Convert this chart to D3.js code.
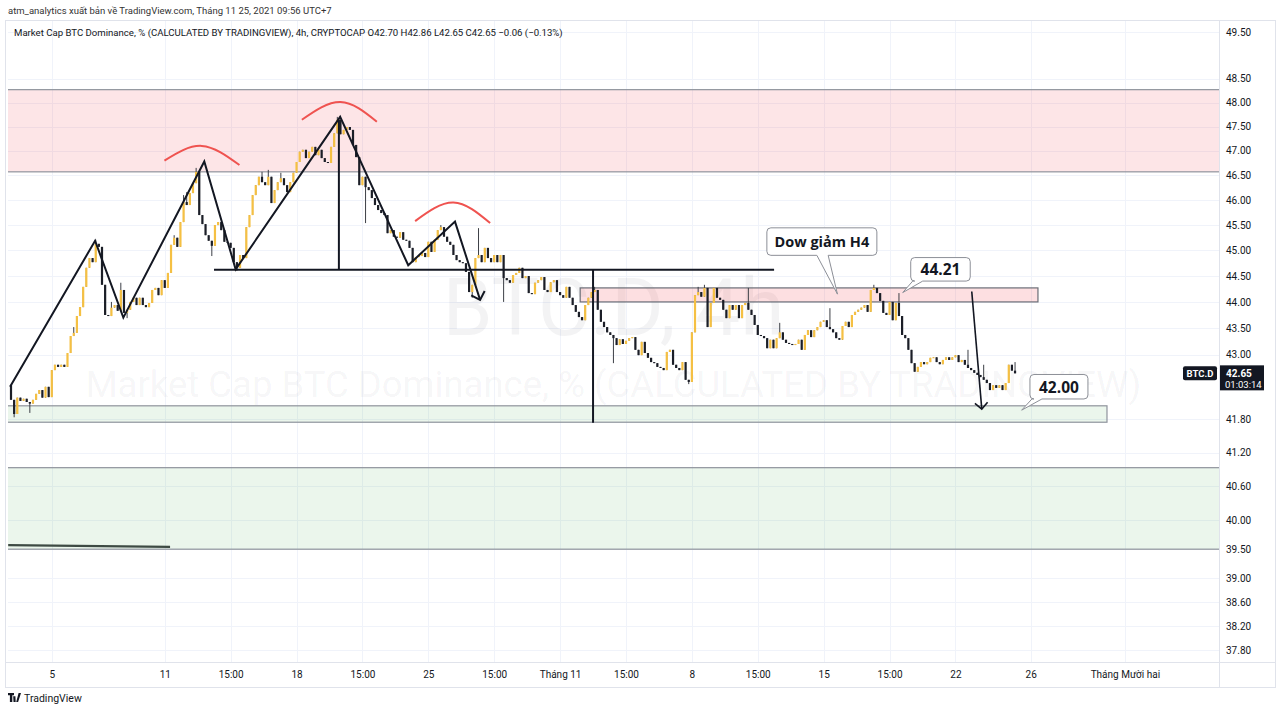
<!DOCTYPE html>
<html><head><meta charset="utf-8">
<script src="https://cdn.jsdelivr.net/npm/d3@7"></script>
<style>
html,body{margin:0;padding:0;background:#fff;}
svg{display:block;font-family:Roboto,"Noto Sans",sans-serif;}
</style></head><body>
<svg id="chart" width="1280" height="713"></svg>
<script>
// ---------------- DATA ----------------
const headerText = "atm_analytics xuất bản về TradingView.com, Tháng 11 25, 2021 09:56 UTC+7";
const legendText = "Market Cap BTC Dominance, % (CALCULATED BY TRADINGVIEW), 4h, CRYPTOCAP  O42.70  H42.86  L42.65  C42.65  −0.06 (−0.13%)";
const watermark1 = "BTC.D, 4h";
const watermark2 = "Market Cap BTC Dominance, % (CALCULATED BY TRADINGVIEW)";

const firstBarTime = "2021-10-02 23:00";   // 4h bars, UTC+7 clock
const barHours = 4;
const viewRange = ["2021-10-02 19:10", "2021-12-06 03:00"];
const priceDomain = [37.8, 49.5];

const firstOpen = 42.43;
const closes = [
 42.16,41.90,42.20,42.14,42.18,42.12,42.09,42.16,42.27,42.34,
 42.20,42.40,42.21,42.71,42.81,42.77,42.81,42.77,43.03,43.35,
 43.41,43.73,43.90,44.29,44.66,44.85,44.77,45.13,45.07,44.33,
 43.75,43.73,43.89,43.94,43.83,44.23,43.79,43.85,44.00,44.08,
 43.94,44.08,43.94,43.90,43.98,44.23,44.27,44.13,44.42,44.27,
 44.56,45.11,45.25,45.07,45.56,45.96,45.90,46.14,46.34,46.57,
 45.70,45.52,45.30,45.19,45.09,45.50,45.56,45.40,45.17,45.15,
 45.05,44.77,44.66,44.91,44.85,45.46,45.70,46.10,46.30,46.47,
 46.36,46.30,46.47,45.94,46.20,46.36,46.44,46.30,46.16,46.36,
 46.55,46.77,46.98,47.02,46.85,46.98,47.08,46.91,47.02,46.85,
 46.77,46.75,47.08,47.36,47.64,47.34,47.43,47.49,47.43,47.12,
 46.87,46.30,46.47,46.26,46.20,46.04,45.90,45.80,45.74,45.70,
 45.34,45.40,45.27,45.25,45.36,45.21,45.19,45.05,44.77,44.87,
 44.89,44.95,44.87,45.17,44.97,45.21,45.40,45.46,45.27,45.17,
 45.11,44.91,44.81,44.77,44.75,44.58,44.19,44.33,44.85,44.91,
 44.77,45.05,44.85,44.77,44.91,44.77,44.91,44.46,44.42,44.37,
 44.52,44.56,44.66,44.46,44.50,44.17,44.15,44.37,44.42,44.48,
 44.23,44.19,44.38,44.42,44.19,44.13,44.08,44.29,44.08,43.94,
 43.81,43.71,43.65,43.94,44.08,44.19,44.23,43.85,43.62,43.52,
 43.42,43.37,43.31,43.18,43.29,43.20,43.26,43.31,43.33,43.09,
 42.99,43.24,43.03,42.94,42.86,42.84,42.77,42.75,42.71,43.05,
 43.09,42.81,42.75,42.71,42.86,42.53,42.49,43.42,44.13,44.19,
 44.10,44.27,43.52,43.98,44.27,44.08,44.04,43.85,43.69,43.94,
 43.85,43.94,43.69,43.94,43.98,43.85,43.75,43.56,43.37,43.35,
 43.31,43.12,43.28,43.12,43.31,43.42,43.28,43.22,43.20,43.18,
 43.20,43.28,43.09,43.37,43.46,43.33,43.46,43.52,43.62,43.65,
 43.52,43.48,43.42,43.31,43.28,43.54,43.62,43.52,43.75,43.81,
 43.85,43.89,43.94,43.81,44.23,44.27,44.17,44.02,43.79,43.75,
 44.00,43.65,43.98,43.73,43.37,43.31,43.09,42.84,42.68,42.77,
 42.86,42.82,42.86,42.94,42.95,42.86,42.82,42.90,42.95,42.90,
 42.95,42.99,42.86,42.90,42.81,42.75,42.71,42.66,42.62,42.58,
 42.53,42.47,42.34,42.43,42.38,42.43,42.34,42.47,42.81,42.70,42.65
];
// visible wicks [barIndex, price]
const wickHighs = [[20,43.52],[27,45.21],[32,44.00],[35,44.37],[52,45.30],[55,46.10],[56,46.16],[59,46.65],
 [80,46.57],[82,46.61],[86,46.55],[104,47.70],[137,45.50],[149,45.44],[157,44.91],[186,44.29],[219,44.29],
 [221,44.33],[235,44.27],[245,43.60],[261,43.88],[275,44.33],[283,44.17],[305,43.09],[310,42.81],[320,42.86]];
const wickLows = [[1,41.84],[6,41.92],[37,43.69],[64,44.89],[72,44.60],[113,45.54],[147,44.08],[157,44.00],
 [192,42.84],[216,42.45]];

const priceTicks = [49.5,48.5,48,47.5,47,46.5,46,45.5,45,44.5,44,43.5,43,41.8,41.2,40.6,40,39.5,39,38.6,38.2,37.8];
const timeTicks = ["2021-10-05 03:00","2021-10-11 03:00","2021-10-14 15:00","2021-10-18 03:00","2021-10-21 15:00",
 "2021-10-25 03:00","2021-10-28 15:00","2021-11-01 03:00","2021-11-04 15:00","2021-11-08 03:00","2021-11-11 15:00",
 "2021-11-15 03:00","2021-11-18 15:00","2021-11-22 03:00","2021-11-26 03:00","2021-12-01 03:00"];
const timeLabels = ["5","11","15:00","18","15:00","25","15:00","Tháng 11","15:00","8","15:00","15","15:00","22","26","Tháng Mười hai"];

// zones (prices, bar indices; null = extends to pane edge)
const zoneTop      = [48.27, 40.93, 42.05, 44.27];
const zoneBottom   = [46.57, 39.50, 41.75, 44.00];
const zoneStartBar = [null,  null,  null,  181.4];
const zoneEndBar   = [null,  null,  349.3, 327.3];

// drawings in [barIndex, price]
const zigzag = [[-0.3,42.40],[26.8,45.19],[35.8,43.70],[61.6,46.78],[71.6,44.63],[104.9,47.70],[126.6,44.71],[141.5,45.57],[149.5,44.04]];
const necklineBars = [64.7, 243.2];
const necklinePrice = 44.62;
const verticalBars = [104.5, 185.5];
const verticalTop = [47.64, 44.62];
const verticalBottom = [44.62, 41.74];
const arcs = [
 [[48.9,46.80],[60.8,47.10],[72.8,46.71]],
 [[92.7,47.64],[105.0,48.01],[116.6,47.60]],
 [[128.8,45.58],[141.0,45.95],[152.7,45.54]]
];
const dropArrow = [[306.2,44.20],[309.4,41.99]];
const baseLine = [[-0.9,39.57],[50.7,39.54]];
const calloutText = ["Dow giảm H4","44.21","42.00"];
const calloutTip = [[263.4,44.15],[284.2,44.18],[322.1,41.97]];
const lastPrice = 42.65;
const countdown = "01:03:14";

// ---------------- CHART ----------------
const parseT = s => { const [d,t] = s.split(" "); const [Y,M,D] = d.split("-").map(Number); const [h,m] = t.split(":").map(Number); return new Date(Date.UTC(Y,M-1,D,h,m)); };
const t0 = parseT(firstBarTime);
const barTime = i => new Date(t0.getTime() + i*barHours*3600*1000);

const P = {l:8, r:1219, t:21, b:662};
const x = d3.scaleUtc().domain(viewRange.map(parseT)).range([P.l, P.r]);
const y = d3.scaleLog().domain(priceDomain).range([650, 32]);
const xb = i => x(barTime(i));

const svg = d3.select("#chart");
const INK = "#131722";
svg.append("rect").attr("width",1280).attr("height",713).attr("fill","#fff");

svg.append("defs").append("clipPath").attr("id","pane").append("rect")
  .attr("x",P.l).attr("y",P.t).attr("width",P.r-P.l).attr("height",P.b-P.t);
const pane = svg.append("g").attr("clip-path","url(#pane)");

// grid
pane.append("g").selectAll("line").data(priceTicks).join("line")
  .attr("x1",P.l).attr("x2",P.r).attr("y1",d=>Math.round(y(d))+0.5).attr("y2",d=>Math.round(y(d))+0.5)
  .attr("stroke","#f0f3fa").attr("stroke-width",1);
pane.append("g").selectAll("line").data(timeTicks).join("line")
  .attr("y1",P.t).attr("y2",P.b).attr("x1",d=>Math.round(x(parseT(d)))+0.5).attr("x2",d=>Math.round(x(parseT(d)))+0.5)
  .attr("stroke","#f0f3fa").attr("stroke-width",1);

// watermark
pane.append("text").attr("x",(P.l+P.r)/2).attr("y",335).attr("text-anchor","middle")
  .attr("font-size",80).attr("fill","rgba(19,23,34,0.05)").text(watermark1);
pane.append("text").attr("x",(P.l+P.r)/2).attr("y",397).attr("text-anchor","middle")
  .attr("font-size",36.5).attr("fill","rgba(19,23,34,0.05)").text(watermark2);

// zones
const zoneFill = ["rgba(242,54,69,0.13)","rgba(76,175,80,0.11)","rgba(76,175,80,0.11)","rgba(242,54,69,0.16)"];
const zoneStroke = ["#8f939c","#8f939c","#8f939c","#6b6e76"];
zoneTop.forEach((tp,k)=>{
  const x0 = zoneStartBar[k]===null ? P.l-2 : xb(zoneStartBar[k]);
  const x1 = zoneEndBar[k]===null ? P.r+2 : xb(zoneEndBar[k]);
  pane.append("rect").attr("x",x0).attr("width",x1-x0)
    .attr("y",y(tp)).attr("height",y(zoneBottom[k])-y(tp))
    .attr("fill",zoneFill[k]).attr("stroke",zoneStroke[k]).attr("stroke-width",1.2);
});

// candles
const hiMap = new Map(wickHighs), loMap = new Map(wickLows);
const bars = closes.map((c,i)=>{
  const o = i===0 ? firstOpen : closes[i-1];
  return {i,o,c,h: hiMap.has(i)?hiMap.get(i):Math.max(o,c), l: loMap.has(i)?loMap.get(i):Math.min(o,c)};
});
const UP = "#f5c043", DOWN = "#1b1e27";
const cg = pane.append("g");
cg.selectAll("line").data(bars).join("line")
  .attr("x1",d=>xb(d.i)).attr("x2",d=>xb(d.i)).attr("y1",d=>y(d.h)).attr("y2",d=>y(d.l))
  .attr("stroke","#3c3f46").attr("stroke-width",1);
cg.selectAll("rect").data(bars).join("rect")
  .attr("x",d=>xb(d.i)-1.1).attr("width",2.2)
  .attr("y",d=>y(Math.max(d.o,d.c))).attr("height",d=>Math.max(1,Math.abs(y(d.o)-y(d.c))))
  .attr("fill",d=>d.c>=d.o?UP:DOWN);

// drawings
const lineGen = d3.line().x(d=>xb(d[0])).y(d=>y(d[1]));
pane.append("path").attr("d",lineGen(zigzag)).attr("fill","none").attr("stroke",INK).attr("stroke-width",2).attr("stroke-linejoin","miter");
function arrowHead(p1,p2,len,ang){
  const ax=xb(p1[0]),ay=y(p1[1]),bx=xb(p2[0]),by=y(p2[1]);
  const a=Math.atan2(ay-by,ax-bx);
  const pts=[[bx+len*Math.cos(a-ang),by+len*Math.sin(a-ang)],[bx,by],[bx+len*Math.cos(a+ang),by+len*Math.sin(a+ang)]];
  return d3.line()(pts);
}
pane.append("path").attr("d",arrowHead(zigzag[zigzag.length-2],zigzag[zigzag.length-1],10,Math.PI/4))
  .attr("fill","none").attr("stroke",INK).attr("stroke-width",2);
pane.append("line").attr("x1",xb(necklineBars[0])).attr("x2",xb(necklineBars[1]))
  .attr("y1",y(necklinePrice)).attr("y2",y(necklinePrice)).attr("stroke",INK).attr("stroke-width",2);
verticalBars.forEach((b,k)=>{
  pane.append("line").attr("x1",xb(b)).attr("x2",xb(b)).attr("y1",y(verticalTop[k])).attr("y2",y(verticalBottom[k]))
    .attr("stroke",INK).attr("stroke-width",2);
});
const arcGen = d3.line().x(d=>xb(d[0])).y(d=>y(d[1])).curve(d3.curveNatural);
arcs.forEach(a=>pane.append("path").attr("d",arcGen(a)).attr("fill","none").attr("stroke","#ef5350").attr("stroke-width",2));
pane.append("path").attr("d",lineGen(dropArrow)).attr("stroke",INK).attr("stroke-width",1.6).attr("fill","none");
pane.append("path").attr("d",arrowHead(dropArrow[0],dropArrow[1],9,Math.PI/4)).attr("stroke",INK).attr("stroke-width",1.6).attr("fill","none");
pane.append("path").attr("d",lineGen(baseLine)).attr("stroke","#3d4a43").attr("stroke-width",2.2).attr("fill","none");

// callouts (box placement relative to tip)
const calloutBox = [
  {dx:-70.6, dy:-66.3, w:110, h:27.5, b1:-20.6, b2:-9.3, fs:14.5},
  {dx:8, dy:-35, w:59.5, h:23.5, b1:2, b2:12, fs:15.5},
  {dx:8.3, dy:-35.7, w:58, h:24.5, b1:2, b2:12, fs:15.5}
];
calloutText.forEach((t,k)=>{
  const tx=xb(calloutTip[k][0]), ty=y(calloutTip[k][1]);
  const c=calloutBox[k], x0=tx+c.dx, y0=ty+c.dy, w=c.w, h=c.h, r=4;
  const bx1 = c.b1<0 ? tx+c.b1 : x0+c.b1, bx2 = c.b2<0 ? tx+c.b2 : x0+c.b2;
  const d=`M${x0+r},${y0}H${x0+w-r}Q${x0+w},${y0} ${x0+w},${y0+r}V${y0+h-r}Q${x0+w},${y0+h} ${x0+w-r},${y0+h}`+
    `H${bx2}L${tx},${ty}L${bx1},${y0+h}H${x0+r}Q${x0},${y0+h} ${x0},${y0+h-r}V${y0+r}Q${x0},${y0} ${x0+r},${y0}Z`;
  svg.append("path").attr("d",d).attr("fill","#fff").attr("stroke","#8c8f97").attr("stroke-width",1);
  svg.append("text").attr("x",x0+w/2).attr("y",y0+h/2+0.5).attr("dy","0.35em").attr("text-anchor","middle")
    .attr("font-family","'Open Sans',Roboto,sans-serif").attr("font-weight",700).attr("font-size",c.fs).attr("fill",INK).text(t);
});

// frame
svg.append("rect").attr("x",5.5).attr("y",20.5).attr("width",1270).attr("height",667).attr("fill","none").attr("stroke","#e0e3eb");
svg.append("line").attr("x1",P.r+0.5).attr("x2",P.r+0.5).attr("y1",20.5).attr("y2",687.5).attr("stroke","#e0e3eb");
svg.append("line").attr("x1",5.5).attr("x2",1275.5).attr("y1",P.b+0.5).attr("y2",P.b+0.5).attr("stroke","#e0e3eb");

// price axis
const yAxis = d3.axisRight(y).tickValues(priceTicks).tickFormat(d3.format(".2f")).tickSize(0).tickPadding(7);
const ya = svg.append("g").attr("transform",`translate(${P.r},0)`).call(yAxis);
ya.select(".domain").remove();
ya.selectAll("text").attr("font-size",10).attr("fill",INK).attr("font-family","Roboto,sans-serif");

// time axis
const xAxis = d3.axisBottom(x).tickValues(timeTicks.map(parseT)).tickFormat((d,i)=>timeLabels[i]).tickSize(0).tickPadding(9);
const xa = svg.append("g").attr("transform",`translate(0,${P.b})`).call(xAxis);
xa.select(".domain").remove();
xa.selectAll("text").attr("font-size",10).attr("fill",INK).attr("font-family","Roboto,sans-serif");

// last price tags
const ly = y(lastPrice);
svg.append("rect").attr("x",1183).attr("y",ly-7).attr("width",34).attr("height",14).attr("rx",2).attr("fill",INK);
svg.append("text").attr("x",1200).attr("y",ly).attr("dy","0.35em").attr("text-anchor","middle").attr("font-size",9.5)
  .attr("font-weight",700).attr("fill","#fff").text("BTC.D");
svg.append("rect").attr("x",P.r+1).attr("y",ly-8).attr("width",44).attr("height",25).attr("fill",INK);
svg.append("text").attr("x",P.r+7).attr("y",ly).attr("dy","0.35em").attr("font-size",10).attr("font-weight",700).attr("fill","#fff").text(d3.format(".2f")(lastPrice));
svg.append("text").attr("x",P.r+6).attr("y",ly+11).attr("dy","0.35em").attr("font-size",9.5).attr("fill","#fff").text(countdown);

// header
svg.append("text").attr("x",8).attr("y",14).attr("font-size",9.5).attr("fill","#333").text(headerText);
svg.append("text").attr("x",14).attr("y",35.5).attr("font-size",9.6).attr("fill",INK).text(legendText);

// footer logo
const lg = svg.append("g").attr("transform","translate(8,693)");
lg.append("path").attr("d","M0,0H6V2.2H4.3V9H1.9V2.2H0Z M5.2,3.2H7.4L7.7,9H5.5Z M8.2,9L10.6,0H13L10.1,9Z").attr("fill",INK);
svg.append("text").attr("x",24).attr("y",701.5).attr("font-size",10.5).attr("fill",INK).text("TradingView");
</script>
</body></html>
